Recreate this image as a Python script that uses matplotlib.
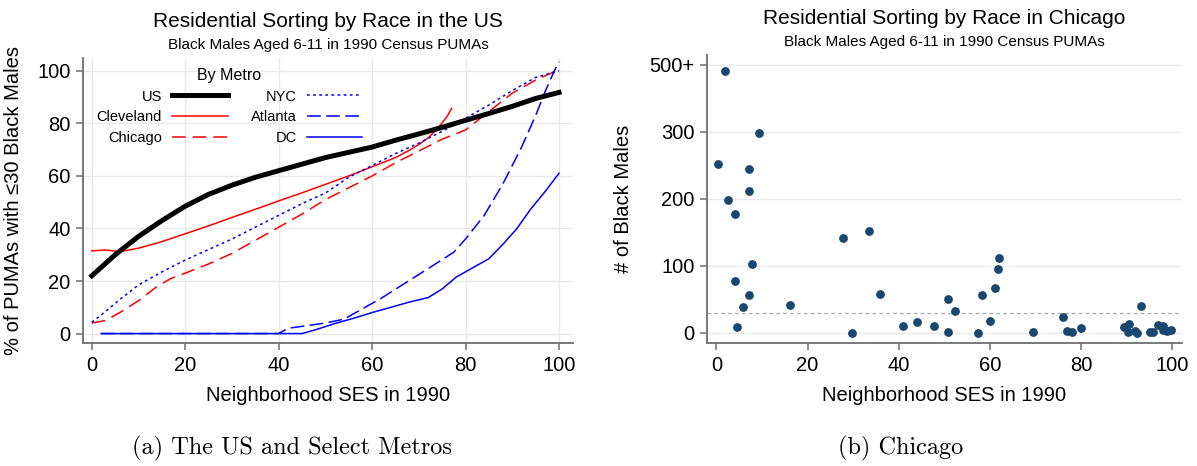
import numpy as np
import matplotlib
matplotlib.use("Agg")
import matplotlib.pyplot as plt

plt.rcParams['font.family'] = ['Liberation Sans', 'DejaVu Sans']

# ---- left panel: share of PUMAs with <=30 black males, by SES percentile
us_x = [0, 5, 10, 15, 20, 25, 30, 35, 40, 45, 50, 55, 60, 65, 70, 75, 80, 85, 90, 95, 100]
us_y = [22, 30, 37, 43, 48.5, 53, 56.5, 59.5, 62, 64.5, 67, 69, 71, 73.6, 76, 78.5, 81.2, 83.8, 86.5, 89.5, 91.8]

cle_x = [0, 3, 6, 10, 15, 20, 25, 30, 35, 40, 45, 50, 55, 60, 65, 68, 70, 72, 74, 76, 77]
cle_y = [31.5, 31.8, 31.2, 32.5, 35, 38, 41, 44.2, 47.3, 50.5, 53.6, 56.8, 60, 63.5, 67, 69.8, 72, 74.5, 78, 82.5, 85.7]

chi_x = [0, 3, 6, 10, 14, 17, 20, 25, 30, 35, 40, 45, 50, 55, 60, 65, 70, 75, 80, 85, 90, 95, 100]
chi_y = [4, 5, 8, 12.5, 18, 21, 23, 26.5, 30.5, 35.5, 40.5, 45.5, 51, 55.5, 60, 65, 69.5, 74, 77.5, 84.5, 91.5, 96.5, 100.5]

nyc_x = [0, 3, 6, 10, 15, 20, 25, 30, 35, 40, 45, 50, 55, 60, 65, 70, 75, 80, 85, 90, 95, 100]
nyc_y = [4.3, 8.5, 13, 18.5, 23.5, 28, 32, 36, 40.5, 45, 49.5, 53.5, 59.5, 64, 68.5, 72.5, 77, 82, 87, 92.5, 97.5, 100]

atl_x = [2, 40, 42, 46, 50, 54, 58, 62, 66, 70, 74, 77.5, 80, 84, 88, 92, 95, 97, 99, 100]
atl_y = [0, 0, 2, 3, 4, 5.5, 9.5, 13.5, 18, 22.5, 27, 31, 36, 45, 57, 71, 83, 92, 100, 103.5]

dc_x = [2, 45, 48, 52, 56, 60, 64, 68, 72, 75, 78, 82, 85, 88, 91, 94, 97, 100]
dc_y = [0, 0, 1.5, 3.8, 5.8, 8, 10, 12, 13.7, 17, 21.5, 25.5, 28.5, 34, 40, 47.5, 54, 61]

# ---- right panel: Chicago PUMAs (500+ drawn at the 400 row)
chi_ses = [2.0, 9.3, 0.3, 7.2, 7.2, 2.6, 4.0, 27.8, 33.5, 7.8, 4.2, 7.2, 5.9, 16.2, 4.5,
           29.7, 35.9, 40.9, 44.0, 47.8, 50.8, 52.4, 50.8, 57.3, 58.2, 60.1, 61.2, 61.8, 62.0,
           69.4, 76.0, 76.8, 78.0, 79.9, 89.5, 90.6, 90.2, 91.9, 92.3, 93.2, 95.0, 95.8,
           96.8, 97.9, 97.9, 99.8, 98.8]
chi_males = [390, 298, 252, 245, 212, 198, 177, 141, 152, 103, 77, 56, 39, 41, 9,
             0, 58, 10, 16, 11, 51, 33, 1, 0, 57, 18, 67, 96, 112,
             1, 24, 3, 1, 7, 9, 14, 1, 3, 0, 40, 1, 2,
             12, 11, 4, 5, 3]
right_ticks = [0, 100, 200, 300, 400]
right_ticklabels = ['0', '100', '200', '300', '500+']

fig = plt.figure(figsize=(11.97, 4.66), dpi=100)
ax1 = fig.add_axes([0.0693, 0.2639, 0.4094, 0.6116])
ax2 = fig.add_axes([0.5906, 0.2639, 0.3968, 0.618])

RED = '#ff0000'
BLUE = '#0000ff'

ax1.plot(us_x, us_y, color='black', lw=3.6, label='US', zorder=5)
ax1.plot(cle_x, cle_y, color=RED, lw=1.1, label='Cleveland')
ax1.plot(chi_x, chi_y, color=RED, lw=1.1, dashes=(9, 4.5), label='Chicago')
ax1.plot(nyc_x, nyc_y, color=BLUE, lw=1.1, dashes=(1.8, 2.2), label='NYC')
ax1.plot(atl_x, atl_y, color=BLUE, lw=1.1, dashes=(9, 3.5), label='Atlanta')
ax1.plot(dc_x, dc_y, color=BLUE, lw=1.1, label='DC')

ax1.set_xlim(-1.9, 103)
ax1.set_ylim(-3.6, 104.9)
ax1.set_xticks(range(0, 101, 20))
ax1.set_yticks(range(0, 101, 20))
ax1.grid(True, color='#e9e9e9', lw=1)
ax1.set_axisbelow(True)
ax1.set_xlabel('Neighborhood SES in 1990', fontsize=14.5, labelpad=8)
ax1.set_ylabel('% of PUMAs with \u226430 Black Males', fontsize=14.5, labelpad=10)
ax1.set_title('Residential Sorting by Race in the US', fontsize=15, pad=22)
ax1.text(0.5, 1.02, 'Black Males Aged 6-11 in 1990 Census PUMAs', transform=ax1.transAxes,
         ha='center', va='bottom', fontsize=11)

leg = ax1.legend(ncol=2, markerfirst=False, frameon=False, title='By Metro',
                 fontsize=10.5, title_fontsize=11.5, handlelength=3.8, handletextpad=0.7,
                 columnspacing=1.6, labelspacing=0.45, borderpad=0, borderaxespad=0,
                 loc='upper left', bbox_to_anchor=(0.028, 0.965))

ax2.scatter(chi_ses, chi_males, s=40, color='#1a476f', zorder=3, linewidths=0)
ax2.axhline(30, color='#a8a8a8', lw=0.9, ls=(0, (3, 2.5)), zorder=2)
ax2.set_xlim(-2.06, 102.1)
ax2.set_ylim(-15, 414.5)
ax2.set_xticks(range(0, 101, 20))
ax2.set_yticks(right_ticks)
ax2.set_yticklabels(right_ticklabels)
ax2.grid(True, axis='y', color='#e9e9e9', lw=1)
ax2.set_axisbelow(True)
ax2.set_xlabel('Neighborhood SES in 1990', fontsize=14.5, labelpad=8)
ax2.set_ylabel('# of Black Males', fontsize=14.5, labelpad=12)
ax2.set_title('Residential Sorting by Race in Chicago', fontsize=15, pad=22)
ax2.text(0.5, 1.02, 'Black Males Aged 6-11 in 1990 Census PUMAs', transform=ax2.transAxes,
         ha='center', va='bottom', fontsize=11)

for ax in (ax1, ax2):
    for side in ('top', 'right'):
        ax.spines[side].set_visible(False)
    for side in ('left', 'bottom'):
        ax.spines[side].set_color('#6e6e6e')
        ax.spines[side].set_linewidth(1.3)
    ax.tick_params(axis='both', length=5, width=1.1, color='#6e6e6e', labelsize=14.5, pad=4)

fig.text(292 / 1197, 1 - 448 / 466, '(a) The US and Select Metros', family='cmr10',
         fontsize=17.5, ha='center', va='center')
fig.text(901 / 1197, 1 - 448 / 466, '(b) Chicago', family='cmr10',
         fontsize=17.5, ha='center', va='center')

fig.savefig('out.png', dpi=100)
